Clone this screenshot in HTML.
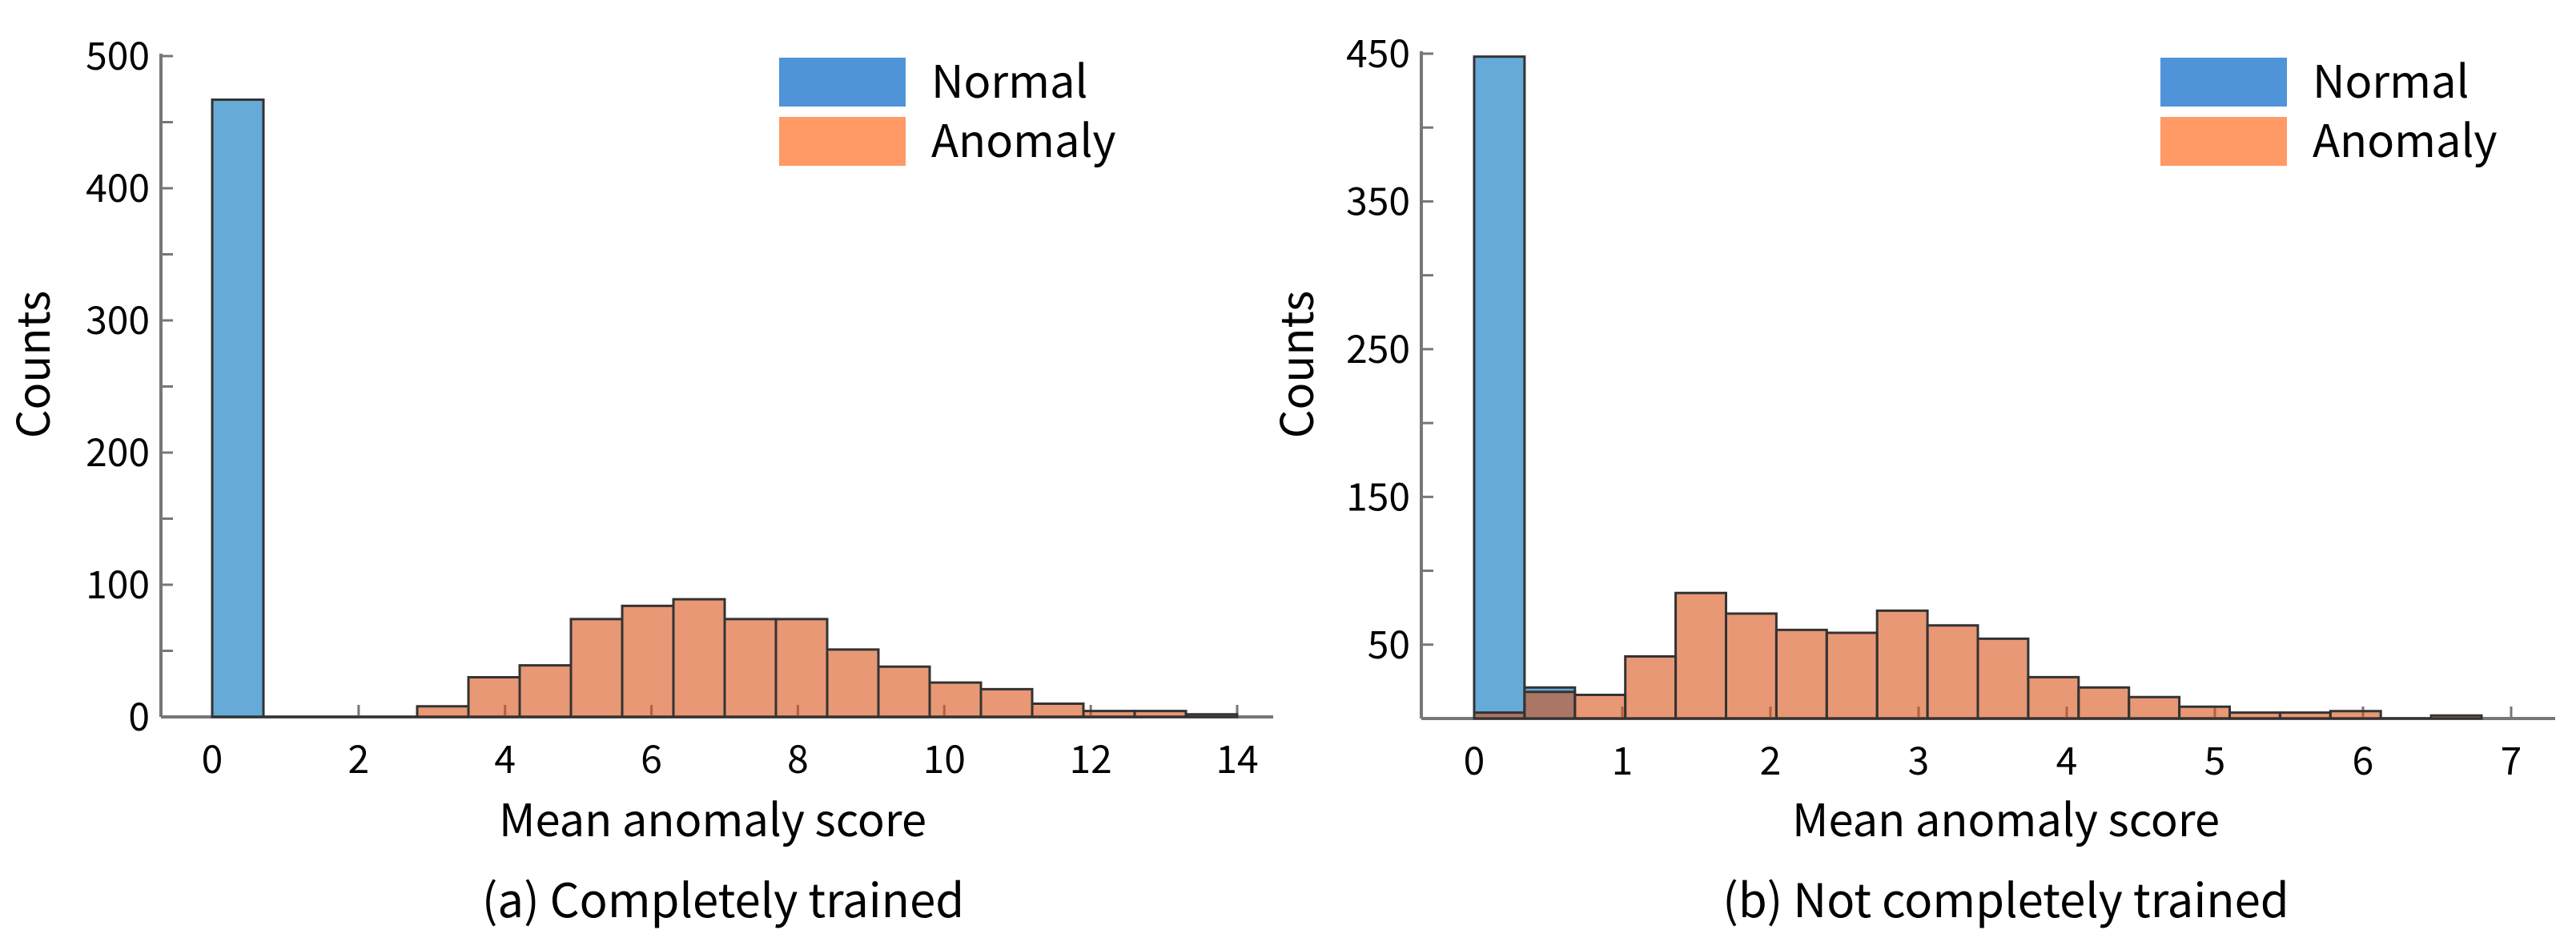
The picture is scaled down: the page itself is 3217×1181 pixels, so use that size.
<!DOCTYPE html>
<html><head><meta charset="utf-8"><style>
html,body{margin:0;padding:0;background:#fff;}
svg{display:block;}
text{font-family:"Noto Sans CJK JP","Liberation Sans",sans-serif;fill:#000;}
</style></head><body>
<svg id="fig" width="3217" height="1181" viewBox="0 0 3217 1181" xmlns="http://www.w3.org/2000/svg"></svg>
<script>
// Panel (a)
const aBinWidth = 0.7;
const aNormal = [467,0,0,0,0,0,0,0,0,0,0,0,0,0,0,0,0,0,0,0];
const aAnomaly = [0,0,0,0,8,30,39,74,84,89,74,74,51,38,26,21,10,4.5,4.5,2];
const aYTicks = [0,100,200,300,400,500];
const aXTicks = [0,2,4,6,8,10,12,14];
// Panel (b)
const bBinWidth = 0.34;
const bNormal = [448,21,0,0,0,0,0,0,0,0,0,0,0,0,0,0,0,0,0,0];
const bAnomaly = [4,18,16,42,85,71,60,58,73,63,54,28,21,14.5,8,4,4,5,0,2];
const bYTicks = [50,150,250,350,450];
const bXTicks = [0,1,2,3,4,5,6,7];

const NS = "http://www.w3.org/2000/svg";
const svg = document.getElementById('fig');
function mk(tag, attrs, parent){
  const e = document.createElementNS(NS, tag);
  for (const k in attrs) e.setAttribute(k, attrs[k]);
  (parent||svg).appendChild(e);
  return e;
}

function panel(o){
  const g = mk('g', {});
  
  
  const sx = v => o.x0 + (v - o.xmin) * o.xs;
  const sy = v => o.y0 - v * o.ys;
  const ya = mk('line', {x1:o.ax, y1:sy(o.ymax)-3, x2:o.ax, y2:o.y0, stroke:'#777', 'stroke-width':4}, g);
  
  
  const xa = mk('line', {x1:o.ax, y1:o.y0, x2:o.axEnd, y2:o.y0, stroke:'#777', 'stroke-width':4}, g);
  
  
  for (let v = 0; v <= o.ymax + 0.01; v += o.minor){
    mk('line', {x1:o.ax, y1:sy(v), x2:o.ax+15, y2:sy(v), stroke:'#777', 'stroke-width':3}, g);
  }
  o.yTicks.forEach(v => {
    const t = mk('text', {x:o.ax-14, y:sy(v)+17, 'text-anchor':'end', 'font-size':48}, g);
    t.textContent = v;
    
    
  });
  o.xTicks.forEach(v => {
    mk('line', {x1:sx(v), y1:o.y0, x2:sx(v), y2:o.y0-15, stroke:'#777', 'stroke-width':3}, g);
    const t = mk('text', {x:sx(v), y:o.y0+70, 'text-anchor':'middle', 'font-size':48}, g);
    t.textContent = v;
    
    
  });
  o.normal.forEach((c, i) => {
    if (c <= 0) return;
    const r = mk('rect', {x:sx(i*o.bw), y:sy(c), width:o.bw*o.xs, height:c*o.ys, fill:'#0072bd', 'fill-opacity':0.6, stroke:'#333', 'stroke-width':3}, g);
    
    
  });
  o.anomaly.forEach((c, i) => {
    const x1 = sx(i*o.bw), x2 = sx((i+1)*o.bw), yt = sy(c), yb = o.y0;
    const r = mk('path', {d:`M${x1},${yb}L${x1},${yt}L${x2},${yt}L${x2},${yb}Z`, fill:'#d95319', 'fill-opacity':0.6, stroke:'#333', 'stroke-width':3}, g);
    
    
  });
  const lg = mk('g', {}, g);
  
  
  const r1 = mk('rect', {x:o.lx, y:72, width:158, height:61, fill:'#4f94d9'}, lg);
  
  
  const r2 = mk('rect', {x:o.lx, y:146, width:158, height:61, fill:'#ff9966'}, lg);
  
  
  const t1 = mk('text', {x:o.lx+190, y:122, 'font-size':56}, lg);
  t1.textContent = 'Normal';
  
  
  const t2 = mk('text', {x:o.lx+190, y:196, 'font-size':56}, lg);
  t2.textContent = 'Anomaly';
  
  
  const yt = mk('text', {x:0, y:0, 'text-anchor':'middle', 'font-size':56, transform:`translate(${o.ytx},455) rotate(-90)`}, g);
  yt.textContent = 'Counts';
  
  
  const xt = mk('text', {x:o.xtx, y:1044, 'text-anchor':'middle', 'font-size':56}, g);
  xt.textContent = 'Mean anomaly score';
  
  
  const cp = mk('text', {x:o.cx, y:1145, 'text-anchor':'middle', 'font-size':58}, g);
  cp.textContent = o.caption;
  
  
}

panel({name:'panel-a', ax:201, axEnd:1590, x0:265, xmin:0, xs:(1545-265)/14, y0:895, ys:(895-70)/500, ymax:500, minor:50,
  yTicks:aYTicks, xTicks:aXTicks, normal:aNormal, anomaly:aAnomaly, bw:aBinWidth,
  lx:973, ytx:62, xtx:890, cx:903, caption:'(a) Completely trained'});
panel({name:'panel-b', ax:1775, axEnd:3191, x0:1841, xmin:0, xs:(3136-1841)/7, y0:897, ys:(897-67)/450, ymax:450, minor:50,
  yTicks:bYTicks, xTicks:bXTicks, normal:bNormal, anomaly:bAnomaly, bw:bBinWidth,
  lx:2698, ytx:1640, xtx:2505, cx:2505, caption:'(b) Not completely trained'});
</script>
</body></html>
